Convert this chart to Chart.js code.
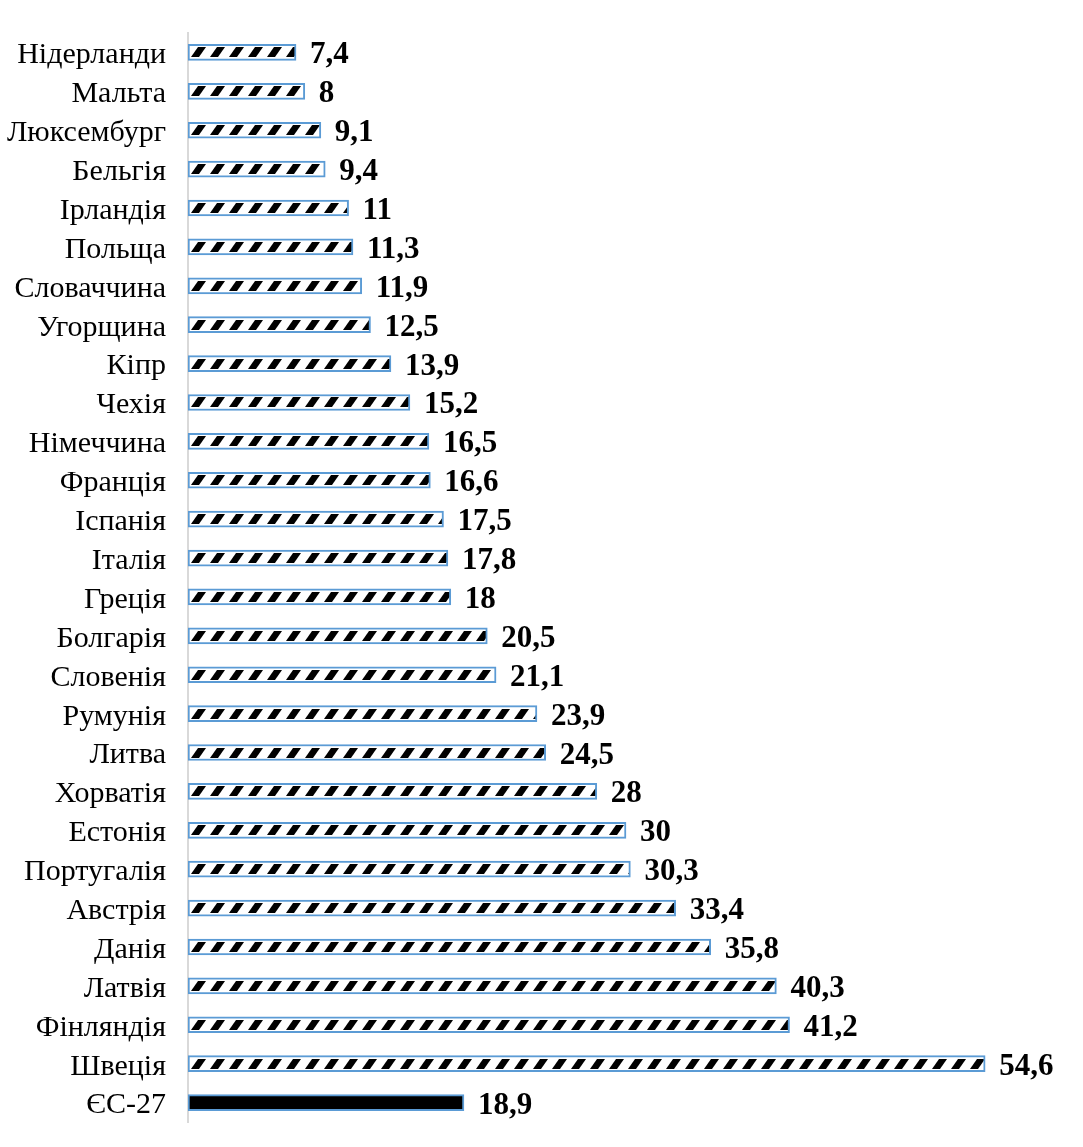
<!DOCTYPE html>
<html>
<head>
<meta charset="utf-8">
<script src="https://cdn.jsdelivr.net/npm/chart.js@4/dist/chart.umd.min.js"></script>
<style>
  html, body { margin: 0; padding: 0; background: #fff; }
  #wrap { width: 1083px; height: 1147px; }
</style>
</head>
<body>
<div id="wrap"><canvas id="chart"></canvas></div>
<script>
const countries = [
  "Нідерланди", "Мальта", "Люксембург", "Бельгія", "Ірландія", "Польща",
  "Словаччина", "Угорщина", "Кіпр", "Чехія", "Німеччина", "Франція",
  "Іспанія", "Італія", "Греція", "Болгарія", "Словенія", "Румунія",
  "Литва", "Хорватія", "Естонія", "Португалія", "Австрія", "Данія",
  "Латвія", "Фінляндія", "Швеція", "ЄС-27"
];
const shares = [
  7.4, 8, 9.1, 9.4, 11, 11.3, 11.9, 12.5, 13.9, 15.2, 16.5, 16.6,
  17.5, 17.8, 18, 20.5, 21.1, 23.9, 24.5, 28, 30, 30.3, 33.4, 35.8,
  40.3, 41.2, 54.6, 18.9
];

// hatch tile for country bars (bold "/" strokes)
function makeHatch() {
  const c = document.createElement("canvas");
  c.width = 19;
  c.height = 12;
  const g = c.getContext("2d");
  g.fillStyle = "#fff";
  g.fillRect(0, 0, 19, 12);
  g.fillStyle = "#000";
  g.beginPath();
  g.moveTo(3, 11);
  g.lineTo(11, 11);
  g.lineTo(18, 1);
  g.lineTo(10, 1);
  g.closePath();
  g.fill();
  return c;
}

const ctx = document.getElementById("chart").getContext("2d");
const tile = makeHatch();
const fills = countries.map(c => c === "ЄС-27" ? "#000" : ctx.createPattern(tile, "repeat"));

// anchor every pattern to its own bar so strokes line up
const anchorHatch = {
  id: "anchorHatch",
  beforeDatasetsDraw(chart) {
    const meta = chart.getDatasetMeta(0);
    meta.data.forEach((bar, i) => {
      const f = fills[i];
      if (typeof f === "string") return;
      f.setTransform(new DOMMatrix().translate(bar.base, Math.round(bar.y - 6)));
    });
  }
};

const valueLabels = {
  id: "valueLabels",
  afterDatasetsDraw(chart) {
    const c = chart.ctx;
    const meta = chart.getDatasetMeta(0);
    c.save();
    c.font = "bold 31px 'Liberation Serif', 'Times New Roman', serif";
    c.fillStyle = "#000";
    c.textBaseline = "middle";
    meta.data.forEach((bar, i) => {
      c.fillText(String(shares[i]).replace(".", ","), bar.x + 14, bar.y + 3);
    });
    c.restore();
  }
};

new Chart(ctx, {
  type: "bar",
  data: {
    labels: countries,
    datasets: [{
      data: shares,
      backgroundColor: fills,
      borderColor: "#5b9bd5",
      borderWidth: 2,
      borderSkipped: false,
      barThickness: 16
    }]
  },
  options: {
    indexAxis: "y",
    responsive: true,
    maintainAspectRatio: false,
    animation: false,
    layout: { padding: { top: 33, bottom: 25, left: 0, right: 19 } },
    plugins: {
      legend: { display: false },
      tooltip: { enabled: false }
    },
    scales: {
      x: {
        display: false,
        min: 0,
        max: 60
      },
      y: {
        afterFit: s => {
          s.width = 188;
          s.paddingTop = 0;
          s.paddingBottom = 0;
        },
        grid: { display: false, drawTicks: false },
        border: { display: true, color: "#d9d9d9", width: 2 },
        ticks: {
          color: "#000",
          padding: 22,
          autoSkip: false,
          labelOffset: 3,
          font: { family: "'Liberation Serif', 'Times New Roman', serif", size: 30, lineHeight: 1 }
        }
      }
    }
  },
  plugins: [anchorHatch, valueLabels]
});
</script>
</body>
</html>
